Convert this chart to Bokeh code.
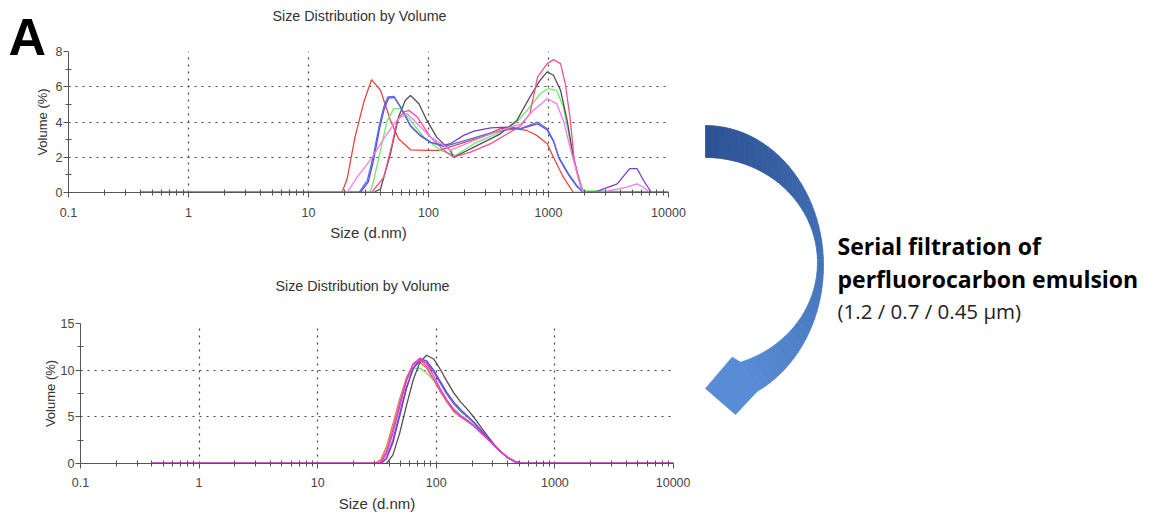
import math
from bokeh.plotting import figure
from bokeh.layouts import row, column
from bokeh.models import FixedTicker, CustomJSTickFormatter, Label, Range1d
from bokeh.embed import file_html
from bokeh.resources import INLINE

# ---------------- data ----------------
x_ticks = [0.1, 1, 10, 100, 1000, 10000]
x_tick_labels = ["0.1", "1", "10", "100", "1000", "10000"]
top_y_ticks = [0, 2, 4, 6, 8]
top_y_minor = [1, 3, 5, 7]
bot_y_ticks = [0, 5, 10, 15]
bot_y_minor = [2.5, 7.5, 12.5]

# Top panel (before filtration): size (d.nm) vs volume (%)
top_red_x = [0.4, 19, 21, 24.4, 28.9, 33.5, 39.8, 48.2, 56.3, 70.8, 97, 121.5, 184.8, 274, 398, 513, 660, 800, 975, 1100, 1330, 1610, 10000]
top_red_y = [0, 0, 0.78, 3.14, 5.13, 6.4, 5.8, 4.09, 3.05, 2.42, 2.39, 2.39, 2.77, 3.14, 3.62, 3.62, 3.52, 3.24, 2.77, 2.0, 0.87, 0, 0]

top_blue_x = [0.4, 26.3, 30.9, 34.5, 38.6, 42.4, 45.8, 51.5, 58.5, 70.8, 85.8, 104, 134, 200, 300, 450, 600, 810, 975, 1100, 1220, 1470, 1720, 1950, 10000]
top_blue_y = [0, 0, 0.68, 2.0, 3.71, 4.85, 5.42, 5.45, 4.85, 3.8, 3.24, 2.86, 2.6, 2.95, 3.3, 3.55, 3.65, 4.0, 3.62, 2.95, 2.0, 1.06, 0.4, 0, 0]

top_green_x = [0.4, 32.6, 34.9, 39.8, 45.3, 51.5, 58.5, 70.8, 91.5, 126, 167, 239, 398, 545, 700, 850, 1000, 1170, 1330, 1510, 1720, 1950, 10000]
top_green_y = [0, 0, 0.68, 2.39, 4.09, 4.76, 4.76, 4.09, 3.14, 2.39, 2.1, 2.77, 3.43, 4.0, 4.85, 5.6, 5.9, 5.8, 4.85, 2.95, 1.25, 0.1, 0]

top_black_x = [0.4, 34.9, 39.8, 48.2, 56.3, 64.2, 70.8, 83.2, 97, 117, 152, 162, 239, 398, 545, 700, 850, 975, 1100, 1260, 1430, 1610, 1830, 1950, 10000]
top_black_y = [0, 0, 0.2, 2.2, 4.28, 5.23, 5.5, 5.04, 4.09, 3.14, 2.39, 2.0, 2.57, 3.33, 4.09, 5.42, 6.36, 6.84, 6.65, 5.8, 4.09, 2.0, 0.49, 0, 0]

top_rose_x = [0.4, 33.6, 42.4, 49.8, 54.8, 62.1, 68.5, 80.7, 104, 134, 162, 224, 330, 455, 590, 700, 810, 975, 1100, 1260, 1380, 1510, 1640, 1830, 1950, 10000]
top_rose_y = [0, 0, 0.87, 2.77, 4.09, 4.56, 4.66, 4.28, 3.14, 2.39, 2.0, 2.29, 2.77, 3.33, 3.8, 4.47, 6.55, 7.31, 7.54, 7.31, 6.17, 4.28, 1.82, 0.49, 0, 0]

top_pink_x = [0.4, 21, 25.4, 32.6, 42.4, 51.5, 58.5, 66.5, 80.7, 104, 134, 152, 239, 398, 590, 750, 975, 1170, 1330, 1510, 1760, 1950, 2700, 4500, 5480, 6200, 7000, 10000]
top_pink_y = [0, 0, 0.87, 1.82, 3.05, 3.9, 4.28, 4.47, 3.9, 3.14, 2.67, 2.39, 2.95, 3.52, 3.9, 4.66, 5.32, 5.04, 4.09, 2.57, 0.87, 0, 0, 0.3, 0.49, 0.3, 0, 0]

top_purple_x = [0.4, 27, 31.5, 35, 39, 43, 46.5, 52, 59, 71, 86, 104, 134, 152, 196, 239, 330, 455, 590, 810, 975, 1100, 1220, 1470, 1720, 1950, 2500, 3740, 4750, 5480, 6200, 7200, 10000]
top_purple_y = [0, 0, 0.6, 1.9, 3.6, 4.8, 5.35, 5.4, 4.8, 3.75, 3.2, 2.85, 2.67, 2.77, 3.24, 3.48, 3.67, 3.71, 3.62, 3.9, 3.55, 2.9, 1.95, 1.0, 0.35, 0, 0.05, 0.49, 1.35, 1.35, 0.68, 0, 0]

# Bottom panel (after serial filtration)
bot_x = [0.4, 30, 34, 38, 43, 49, 56, 64, 73, 83, 95, 108, 123, 140, 160, 183, 209, 238, 272, 310, 354, 404, 461, 526, 600, 700, 10000]
bot_red_y = [0, 0, 0.4, 1.8, 4.2, 6.9, 9.2, 10.6, 10.8, 10.2, 9.0, 7.8, 6.6, 5.6, 5.0, 4.5, 4.0, 3.3, 2.6, 1.9, 1.2, 0.6, 0.2, 0.05, 0, 0, 0]
bot_green_y = [0, 0, 0.2, 1.4, 3.8, 6.6, 9.0, 10.2, 10.2, 9.7, 8.9, 7.9, 6.8, 5.9, 5.2, 4.7, 4.1, 3.4, 2.6, 1.9, 1.2, 0.6, 0.2, 0.05, 0, 0, 0]
bot_rose_y = [0, 0, 0.2, 1.3, 3.6, 6.4, 9.0, 10.7, 11.1, 10.4, 9.0, 7.7, 6.6, 5.6, 5.0, 4.5, 4.0, 3.3, 2.6, 1.9, 1.2, 0.6, 0.2, 0.05, 0, 0, 0]
bot_blue_y = [0, 0, 0, 0.6, 2.5, 5.3, 8.2, 10.2, 11.0, 10.8, 9.8, 8.6, 7.4, 6.4, 5.6, 5.0, 4.3, 3.5, 2.7, 1.9, 1.2, 0.6, 0.2, 0.05, 0, 0, 0]
bot_purple_y = [0, 0, 0, 0.5, 2.2, 5.0, 8.0, 10.2, 11.2, 11.0, 10.0, 8.8, 7.6, 6.6, 5.8, 5.1, 4.4, 3.6, 2.7, 1.9, 1.2, 0.6, 0.2, 0.05, 0, 0, 0]
bot_black_y = [0, 0, 0, 0, 0.9, 3.2, 6.2, 9.0, 10.9, 11.6, 11.2, 10.1, 8.8, 7.6, 6.6, 5.8, 4.9, 3.9, 2.9, 2.0, 1.2, 0.6, 0.2, 0.05, 0, 0, 0]
bot_magenta_y = [0, 0, 0.1, 1.0, 3.2, 6.0, 8.8, 10.7, 11.3, 10.7, 9.4, 8.0, 6.8, 5.8, 5.1, 4.6, 4.0, 3.3, 2.6, 1.9, 1.2, 0.6, 0.2, 0.05, 0, 0, 0]

chart_title = "Size Distribution by Volume"
x_label = "Size (d.nm)"
y_label = "Volume (%)"
panel_letter = "A"

# ---------------- styling helpers ----------------
FONT = "Liberation Sans"
x_minor = [m * 10.0 ** e for e in range(-1, 4) for m in range(2, 10)]


def make_chart(width, height, ymax, yticks, yminor, borders, xl_standoffs, with_ylabel=True):
    left, right, top, bottom = borders
    p = figure(width=width, height=height, x_axis_type="log",
               x_range=Range1d(0.1, 10000), y_range=Range1d(0, ymax),
               output_backend="svg", toolbar_location=None,
               min_border_left=left, min_border_right=right,
               min_border_top=top, min_border_bottom=bottom)
    p.title.visible = False
    p.outline_line_color = None
    p.background_fill_color = "white"
    xa = p.below[0]
    ya = p.left[0]
    xt = FixedTicker(ticks=x_ticks, minor_ticks=x_minor)
    xa.ticker = xt
    p.xgrid.ticker = xt
    xa.formatter = CustomJSTickFormatter(
        args=dict(tvals=x_ticks, tlabs=x_tick_labels),
        code="""
        for (let i = 0; i < tvals.length; i++) {
          if (Math.abs(Math.log10(tvals[i]) - Math.log10(tick)) < 1e-6) return tlabs[i];
        }
        return "";
        """)
    yt = FixedTicker(ticks=yticks, minor_ticks=yminor)
    ya.ticker = yt
    p.ygrid.ticker = yt
    for ax in (xa, ya):
        ax.axis_line_color = "#555555"
        ax.major_tick_line_color = "#555555"
        ax.minor_tick_line_color = "#555555"
        ax.major_label_text_font = FONT
        ax.major_label_text_font_size = "12.5px"
        ax.major_label_text_color = "#444444"
        ax.axis_label_text_font = FONT
        ax.axis_label_text_font_style = "normal"
        ax.axis_label_text_color = "#333333"
        ax.minor_tick_in = 3
        ax.minor_tick_out = 3
        ax.major_tick_in = 0
        ax.major_tick_out = 5
    xa.axis_label = x_label
    xa.axis_label_text_font_size = "15px"
    xa.major_label_standoff = xl_standoffs[0]
    xa.axis_label_standoff = xl_standoffs[1]
    if with_ylabel:
        ya.axis_label = y_label
        ya.axis_label_text_font_size = "13px"
        ya.axis_label_standoff = 0
    ya.major_label_standoff = 1
    for g in (p.xgrid, p.ygrid):
        g.grid_line_color = "#444444"
        g.grid_line_dash = "2 5"
        g.grid_line_width = 1.2
    return p


def make_strip(width, height, x0=0, y0=0):
    s = figure(width=width, height=height, x_range=Range1d(x0, x0 + width),
               y_range=Range1d(y0 + height, y0),
               output_backend="svg", toolbar_location=None,
               min_border_left=0, min_border_right=0, min_border_top=0, min_border_bottom=0)
    s.title.visible = False
    s.axis.visible = False
    s.grid.visible = False
    s.outline_line_color = None
    return s


# ---------------- top block (page y 0..255) ----------------
LEFT_W = 50
A_H = 70
pA = make_strip(LEFT_W, A_H, 0, 0)
pA.add_layout(Label(x=8, y=36, text=panel_letter, text_font=FONT, text_font_size="52px",
                    text_font_style="bold", text_color="black", text_baseline="middle"))
pY = make_strip(LEFT_W, 255 - A_H, 0, A_H)
pY.add_layout(Label(x=42, y=121.5, text=y_label, text_font=FONT, text_font_size="13px",
                    text_color="#333333", text_align="center", text_baseline="middle",
                    angle=math.pi / 2))

TOP_H = 46
pT = make_strip(690 - LEFT_W, TOP_H, LEFT_W, 0)
pT.add_layout(Label(x=359, y=15, text=chart_title, text_font=FONT, text_font_size="14.3px",
                    text_color="#333333", text_align="center", text_baseline="middle"))

p1 = make_chart(690 - LEFT_W, 255 - TOP_H, 8, top_y_ticks, top_y_minor,
                (68 - LEFT_W, 22, 51 - TOP_H, 63), (10, 4), with_ylabel=False)
top_series = [
    (top_red_x, top_red_y, "#e8463c"),
    (top_green_x, top_green_y, "#6fea6f"),
    (top_black_x, top_black_y, "#505050"),
    (top_rose_x, top_rose_y, "#ff4f8a"),
    (top_purple_x, top_purple_y, "#7a3ccf"),
    (top_blue_x, top_blue_y, "#5070e4"),
    (top_pink_x, top_pink_y, "#f57cf0"),
]
for xs, ys, c in top_series:
    p1.line(xs, ys, line_color=c, line_width=1.3)

# ---------------- bottom block (page y 255..518) ----------------
MID_H = 45
pT2 = make_strip(690, MID_H)
pT2.add_layout(Label(x=362, y=30, text=chart_title, text_font=FONT, text_font_size="14.3px",
                     text_color="#333333", text_align="center", text_baseline="middle"))

p2 = make_chart(690, 263 - MID_H, 15, bot_y_ticks, bot_y_minor, (80, 17, 68 - MID_H, 55), (9, 5))
bot_series = [
    (bot_red_y, "#f26b4a"),
    (bot_green_y, "#7bd86b"),
    (bot_black_y, "#505050"),
    (bot_blue_y, "#5070e4"),
    (bot_purple_y, "#7a3ccf"),
    (bot_rose_y, "#ff4f8a"),
    (bot_magenta_y, "#e43ad8"),
]
for ys, c in bot_series:
    p2.line(bot_x, ys, line_color=c, line_width=1.3)

# ---------------- right panel: curved arrow + caption ----------------
p3 = make_strip(463, 518, 690, 0)

N = 48
ocx, ocy, orx, ory = 705, 265, 118, 140
icx, icy, irx, iry = 705, 262, 112, 105
t0o, t1o = -90.0, 64.0
t0i, t1i = -90.0, 71.8
outer = []
inner = []
for i in range(N + 1):
    s = i / N
    to = math.radians(t0o + (t1o - t0o) * s)
    ti = math.radians(t0i + (t1i - t0i) * s)
    outer.append((ocx + orx * math.cos(to), ocy + ory * math.sin(to)))
    inner.append((icx + irx * math.cos(ti), icy + iry * math.sin(ti)))
c0 = (44, 82, 148)
c1 = (88, 140, 212)
xs_list, ys_list, cols = [], [], []
for i in range(N):
    s = (i + 0.5) / N
    col = "#%02x%02x%02x" % tuple(int(c0[k] + (c1[k] - c0[k]) * s) for k in range(3))
    q = [outer[i], outer[i + 1], inner[i + 1], inner[i]]
    xs_list.append([pt[0] for pt in q])
    ys_list.append([pt[1] for pt in q])
    cols.append(col)
head = [outer[-1], (735, 414), (705, 388), (731.7, 356.7), inner[-1]]
xs_list.append([pt[0] for pt in head])
ys_list.append([pt[1] for pt in head])
cols.append("#%02x%02x%02x" % c1)
p3.patches(xs_list, ys_list, fill_color=cols, line_color=cols, line_width=0.8)

CAP_FONT = "Open Sans"
p3.add_layout(Label(x=837, y=245, text="Serial filtration of", text_font=CAP_FONT,
                    text_font_style="bold", text_font_size="23px", text_color="black",
                    text_baseline="middle"))
p3.add_layout(Label(x=837, y=278, text="perfluorocarbon emulsion", text_font=CAP_FONT,
                    text_font_style="bold", text_font_size="23px", text_color="black",
                    text_baseline="middle"))
p3.add_layout(Label(x=837, y=310, text="(1.2 / 0.7 / 0.45 \u00b5m)", text_font=CAP_FONT,
                    text_font_style="normal", text_font_size="20.5px", text_color="#222222",
                    text_baseline="middle"))

top_block = row(column(row(pA), row(pY)), column(row(pT), row(p1)))
left_col = column(top_block, row(pT2), row(p2))
layout = row(left_col, p3)
open("out.html", "w").write(file_html(layout, INLINE))
